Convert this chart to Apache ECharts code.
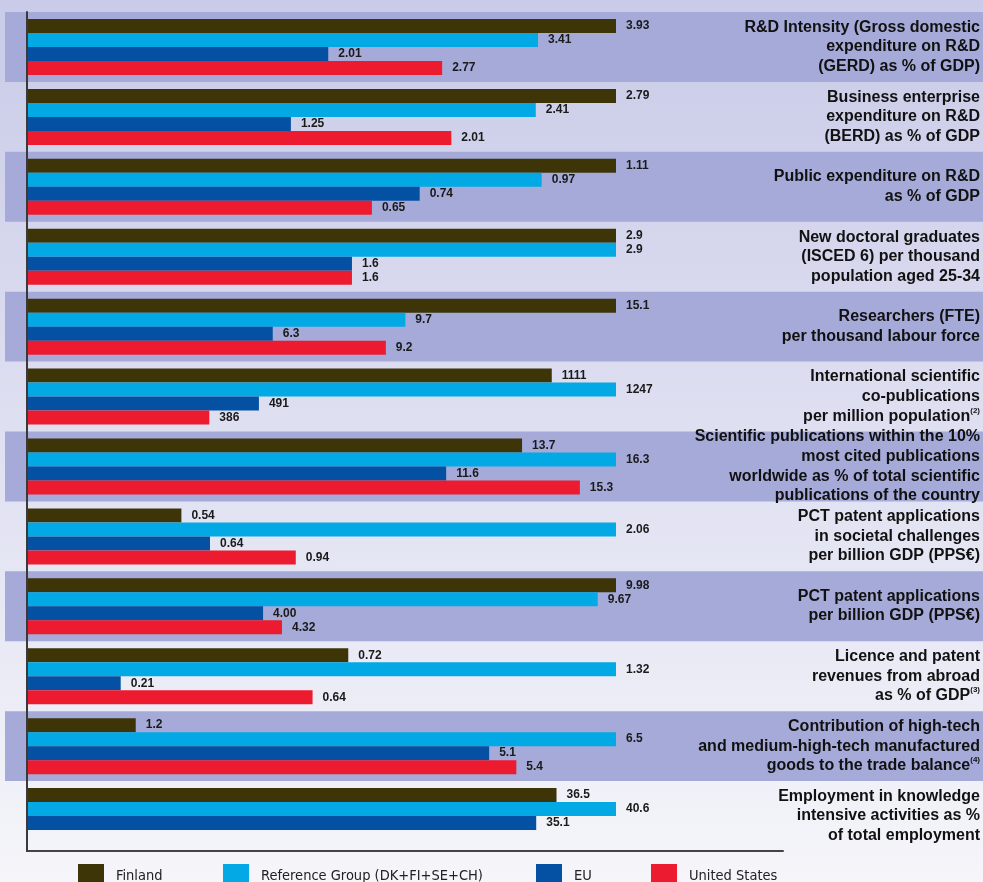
<!DOCTYPE html>
<html>
<head>
<meta charset="utf-8">
<script src="https://cdn.jsdelivr.net/npm/echarts@6/dist/echarts.min.js"></script>
<style>html,body{margin:0;padding:0;}#c{width:983px;height:882px;}</style>
</head>
<body>
<div id="c"></div>
<script>
const categories = [
  "R&D Intensity (Gross domestic\nexpenditure on R&D\n(GERD) as % of GDP)",
  "Business enterprise\nexpenditure on R&D\n(BERD) as % of GDP",
  "Public expenditure on R&D\nas % of GDP",
  "New doctoral graduates\n(ISCED 6) per thousand\npopulation aged 25-34",
  "Researchers (FTE)\nper thousand labour force",
  "International scientific\nco-publications\nper million population{sup|(2)}",
  "Scientific publications within the 10%\nmost cited publications\nworldwide as % of total scientific\npublications of the country",
  "PCT patent applications\nin societal challenges\nper billion GDP (PPS€)",
  "PCT patent applications\nper billion GDP (PPS€)",
  "Licence and patent\nrevenues from abroad\nas % of GDP{sup|(3)}",
  "Contribution of high-tech\nand medium-high-tech manufactured\ngoods to the trade balance{sup|(4)}",
  "Employment in knowledge\nintensive activities as %\nof total employment"
];
const seriesNames = ["Finland", "Reference Group (DK+FI+SE+CH)", "EU", "United States"];
const finland  = [3.93, 2.79, 1.11, 2.9, 15.1, 1111, 13.7, 0.54, 9.98, 0.72, 1.2, 36.5];
const refGroup = [3.41, 2.41, 0.97, 2.9, 9.7, 1247, 16.3, 2.06, 9.67, 1.32, 6.5, 40.6];
const eu       = [2.01, 1.25, 0.74, 1.6, 6.3, 491, 11.6, 0.64, 4.00, 0.21, 5.1, 35.1];
const us       = [2.77, 2.01, 0.65, 1.6, 9.2, 386, 15.3, 0.94, 4.32, 0.64, 5.4, null];
const decimals = [2, 2, 2, 1, 1, 0, 1, 2, 2, 2, 1, 1];

const colors = ['#3d3508', '#02a9e4', '#0450a2', '#ec1b30'];
const allSeries = [finland, refGroup, eu, us];
const rowMax = categories.map((_, i) =>
  Math.max(...allSeries.map(s => s[i]).filter(v => v != null)));

const chart = echarts.init(document.getElementById('c'));
const labelFont = "'Liberation Sans', Arial, Helvetica, sans-serif";

const series = allSeries.map((raw, k) => ({
  name: seriesNames[k],
  type: 'bar',
  xAxisIndex: 0,
  yAxisIndex: 0,
  barWidth: 14,
  barGap: '0%',
  itemStyle: { color: colors[k] },
  label: {
    show: true,
    position: 'right',
    distance: 10,
    fontFamily: labelFont,
    fontWeight: 'bold',
    fontSize: 12,
    color: '#1a1a1a',
    formatter: p => raw[p.dataIndex] == null ? '' : raw[p.dataIndex].toFixed(decimals[p.dataIndex])
  },
  data: raw.map((v, i) => v == null ? null : v / rowMax[i])
}));

const legendLefts = [73, 218, 531, 646];
const legends = seriesNames.map((n, k) => ({
  data: [n],
  left: legendLefts[k],
  top: 859,
  icon: 'rect',
  itemWidth: 26,
  itemHeight: 24,
  itemGap: 0,
  selectedMode: false,
  textStyle: {
    fontFamily: "'Liberation Sans Narrow', 'DejaVu Sans Condensed', 'Liberation Sans', sans-serif",
    fontSize: 14.5,
    color: '#222',
    padding: [0, 0, 0, 7]
  }
}));

chart.setOption({
  animation: false,
  backgroundColor: new echarts.graphic.LinearGradient(0, 0, 0, 1, [
    { offset: 0, color: '#c9cbe8' },
    { offset: 1, color: '#f5f5fa' }
  ]),
  legend: legends,
  grid: [
    { left: 27, top: 12, width: 756, height: 839, containLabel: false },
    { left: 5, top: 12, width: 978, height: 839, containLabel: false }
  ],
  xAxis: [
    {
      gridIndex: 0, type: 'value', min: 0, max: 756 / 589,
      axisLine: { show: true, lineStyle: { color: '#444', width: 2 } },
      axisTick: { show: false }, axisLabel: { show: false }, splitLine: { show: false }
    },
    {
      gridIndex: 1, type: 'value', min: 0, max: 1, show: false
    }
  ],
  yAxis: [
    {
      gridIndex: 0, type: 'category', data: categories, inverse: true, z: 5,
      axisLine: { show: true, lineStyle: { color: '#3a3a3a', width: 2 } },
      axisTick: { show: false }, axisLabel: { show: false }, splitLine: { show: false }
    },
    {
      gridIndex: 1, type: 'category', data: categories, inverse: true, position: 'right',
      axisLine: { show: false }, axisTick: { show: false }, splitLine: { show: false },
      splitArea: { show: true, areaStyle: { color: ['#a5aad8', 'rgba(0,0,0,0)'] } },
      axisLabel: {
        show: true, interval: 0, align: 'right', margin: -3,
        fontFamily: labelFont, fontWeight: 'bold', fontSize: 16, lineHeight: 19.6,
        color: '#111',
        rich: {
          sup: { fontFamily: labelFont, fontWeight: 'bold', fontSize: 8, verticalAlign: 'top', color: '#111' }
        }
      }
    }
  ],
  series: series
});
</script>
</body>
</html>
